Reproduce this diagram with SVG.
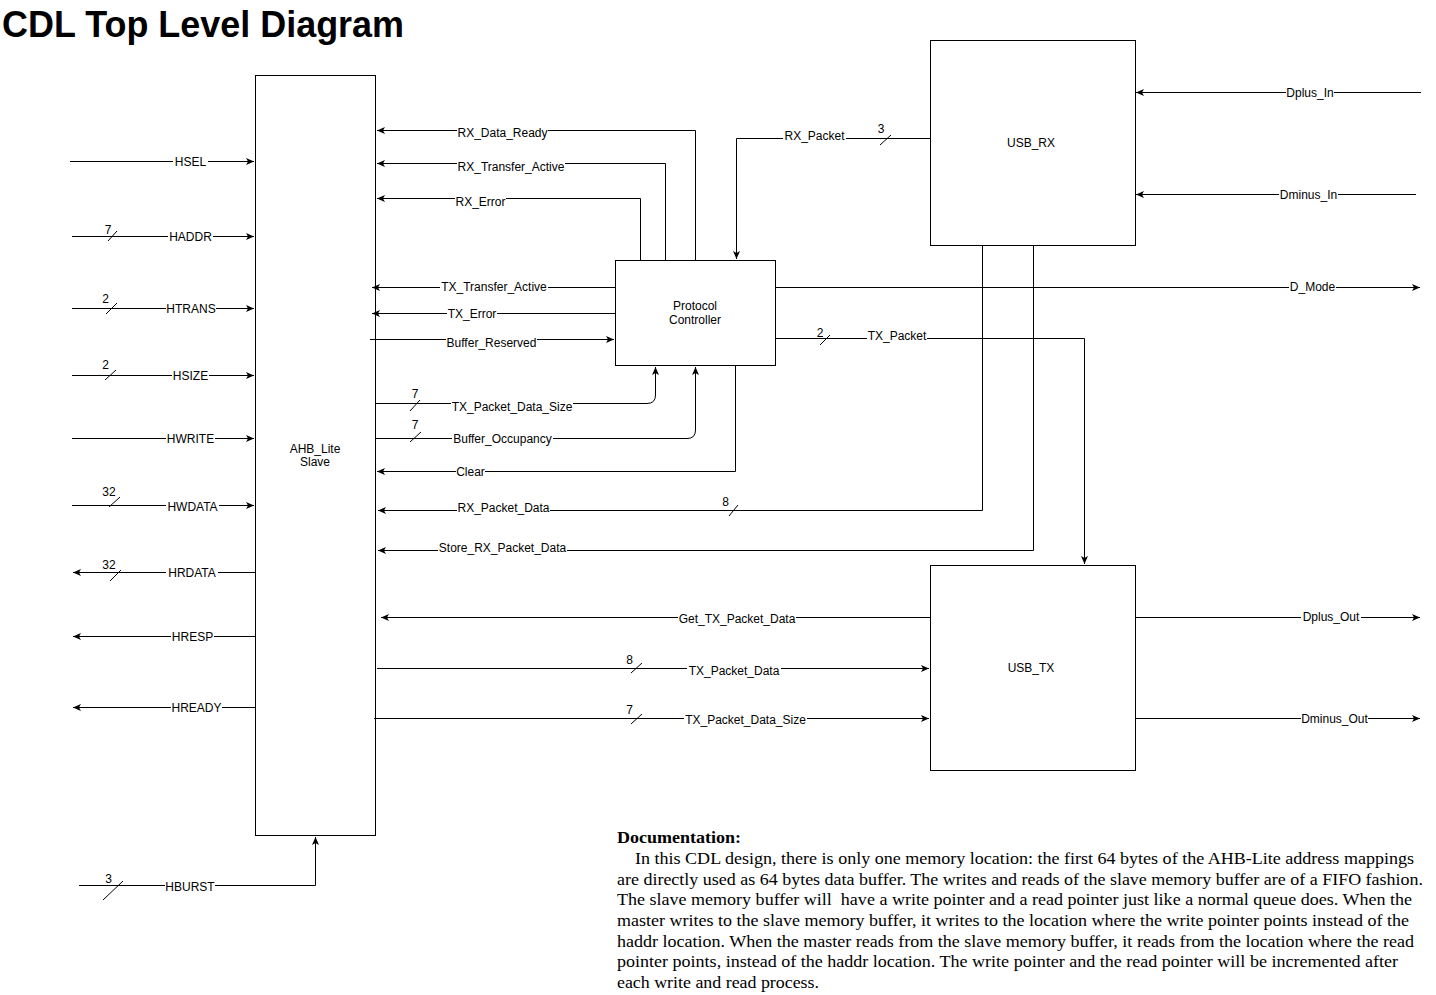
<svg xmlns="http://www.w3.org/2000/svg" width="1436" height="995" viewBox="0 0 1436 995">
<defs>
<marker id="arr" markerWidth="8" markerHeight="8" viewBox="0 0 8 8" refX="8" refY="4" orient="auto" markerUnits="userSpaceOnUse"><path d="M0,0.5 L8,4 L0,7.5 L2,4 Z" fill="#000"/></marker>
<style>
.w{fill:none;stroke:#000;stroke-width:1}
.a{marker-end:url(#arr)}
.bg{fill:#fff}
.lbl{font-family:"Liberation Sans",Arial,sans-serif;font-size:12px;fill:#000;text-anchor:middle}
.sl{stroke:#000;stroke-width:1;fill:none}
.box{fill:#fff;stroke:#000;stroke-width:1}
.doc{font-family:"Liberation Serif","Times New Roman",serif;font-size:16px;fill:#000}
</style>
</defs>
<rect width="1436" height="995" fill="#fff"/>
<text x="2" y="37" font-family="'Liberation Sans',Arial,sans-serif" font-size="36" font-weight="bold" textLength="402" lengthAdjust="spacingAndGlyphs">CDL Top Level Diagram</text>

<g id="ahb"><rect class="box" x="255.5" y="75.5" width="120" height="760"/><text class="lbl" x="315" y="453">AHB_Lite</text><text class="lbl" x="315" y="466">Slave</text></g>
<g id="pc"><rect class="box" x="615.5" y="260.5" width="160" height="105"/><text class="lbl" x="695" y="310">Protocol</text><text class="lbl" x="695" y="324">Controller</text></g>
<g id="usbrx"><rect class="box" x="930.5" y="40.5" width="205" height="205"/><text class="lbl" x="1031" y="147">USB_RX</text></g>
<g id="usbtx"><rect class="box" x="930.5" y="565.5" width="205" height="205"/><text class="lbl" x="1031" y="672">USB_TX</text></g>

<g id="connectors">
<g id="c-hsel"><path class="w a" d="M70,161.5 H254"/><rect class="bg" x="173" y="158.5" width="35" height="6"/><text class="lbl" x="190.5" y="166">HSEL</text></g>
<g id="c-haddr"><path class="w a" d="M72,236.5 H254"/><path class="sl" d="M108,241 L117,231"/><text class="lbl" x="108" y="234">7</text><rect class="bg" x="168" y="233.5" width="45" height="6"/><text class="lbl" x="190.5" y="241">HADDR</text></g>
<g id="c-htrans"><path class="w a" d="M72,308.5 H254"/><path class="sl" d="M106,314 L117,303"/><text class="lbl" x="105.5" y="303">2</text><rect class="bg" x="166" y="305.5" width="50" height="6"/><text class="lbl" x="191" y="313">HTRANS</text></g>
<g id="c-hsize"><path class="w a" d="M72,375.5 H254"/><path class="sl" d="M105,380 L116,370"/><text class="lbl" x="105.5" y="369">2</text><rect class="bg" x="172" y="372.5" width="37" height="6"/><text class="lbl" x="190.5" y="380">HSIZE</text></g>
<g id="c-hwrite"><path class="w a" d="M72,438.5 H254"/><rect class="bg" x="166" y="435.5" width="49" height="6"/><text class="lbl" x="190.5" y="442.5">HWRITE</text></g>
<g id="c-hwdata"><path class="w a" d="M72,505.5 H254"/><path class="sl" d="M109,507 L120,497"/><text class="lbl" x="109" y="496">32</text><rect class="bg" x="166" y="502.5" width="53" height="6"/><text class="lbl" x="192.5" y="510.5">HWDATA</text></g>
<g id="c-hrdata"><path class="w a" d="M255,572.5 H73"/><path class="sl" d="M110,581 L121,570"/><text class="lbl" x="109" y="569">32</text><rect class="bg" x="166" y="569.5" width="52" height="6"/><text class="lbl" x="192" y="577">HRDATA</text></g>
<g id="c-hresp"><path class="w a" d="M255,636.5 H73"/><rect class="bg" x="171" y="633.5" width="43" height="6"/><text class="lbl" x="192.5" y="641">HRESP</text></g>
<g id="c-hready"><path class="w a" d="M255,707.5 H73"/><rect class="bg" x="171" y="704.5" width="51" height="6"/><text class="lbl" x="196.5" y="711.5">HREADY</text></g>
<g id="c-hburst"><path class="w a" d="M79,885.5 H315.5 V837"/><path class="sl" d="M103,900 L123,881"/><text class="lbl" x="108.5" y="883">3</text><rect class="bg" x="165" y="882.5" width="50" height="6"/><text class="lbl" x="190" y="890.5">HBURST</text></g>

<g id="c-rxdataready"><path class="w a" d="M695.5,260 V130.5 H377"/><rect class="bg" x="457" y="127.5" width="91" height="6"/><text class="lbl" x="502.5" y="137">RX_Data_Ready</text></g>
<g id="c-rxtransfer"><path class="w a" d="M665.5,260 V163.5 H377"/><rect class="bg" x="457" y="160.5" width="108" height="6"/><text class="lbl" x="511" y="170.5">RX_Transfer_Active</text></g>
<g id="c-rxerror"><path class="w a" d="M640.5,260 V198.5 H377"/><rect class="bg" x="455" y="195.5" width="51" height="6"/><text class="lbl" x="480.5" y="205.5">RX_Error</text></g>
<g id="c-txtransfer"><path class="w a" d="M615,287.5 H372"/><rect class="bg" x="440" y="284.5" width="108" height="6"/><text class="lbl" x="494" y="291">TX_Transfer_Active</text></g>
<g id="c-txerror"><path class="w a" d="M615,313.5 H372"/><rect class="bg" x="447" y="310.5" width="50" height="6"/><text class="lbl" x="472" y="318">TX_Error</text></g>
<g id="c-bufres"><path class="w a" d="M370,339.5 H614"/><rect class="bg" x="446" y="336.5" width="91" height="6"/><text class="lbl" x="491.5" y="347">Buffer_Reserved</text></g>
<g id="c-txpds-pc"><path class="w a" d="M376,403.5 H647 Q655.5,403.5 655.5,395 V367"/><path class="sl" d="M410,411 L420,400"/><text class="lbl" x="415" y="398">7</text><rect class="bg" x="451" y="400.5" width="122" height="6"/><text class="lbl" x="512" y="411">TX_Packet_Data_Size</text></g>
<g id="c-bufocc"><path class="w a" d="M376,438.5 H687 Q695.5,438.5 695.5,430 V367"/><path class="sl" d="M410,442 L421,432"/><text class="lbl" x="415" y="429">7</text><rect class="bg" x="452" y="435.5" width="101" height="6"/><text class="lbl" x="502.5" y="443">Buffer_Occupancy</text></g>
<g id="c-clear"><path class="w a" d="M735.5,366 V471.5 H377"/><rect class="bg" x="456" y="468.5" width="29" height="6"/><text class="lbl" x="470.5" y="476">Clear</text></g>
<g id="c-rxpd"><path class="w a" d="M982.5,246 V510.5 H378"/><path class="sl" d="M729,516 L738,505"/><text class="lbl" x="725.5" y="506">8</text><rect class="bg" x="457" y="507.5" width="93" height="6"/><text class="lbl" x="503.5" y="512">RX_Packet_Data</text></g>
<g id="c-storerx"><path class="w a" d="M1033.5,246 V550.5 H378"/><rect class="bg" x="438" y="547.5" width="129" height="6"/><text class="lbl" x="502.5" y="552">Store_RX_Packet_Data</text></g>
<g id="c-rxpacket"><path class="w a" d="M930,138.5 H736.5 V259"/><path class="sl" d="M880,145 L891,135"/><text class="lbl" x="881" y="133">3</text><rect class="bg" x="783" y="135.5" width="63" height="6"/><text class="lbl" x="814.5" y="140">RX_Packet</text></g>
<g id="c-dmode"><path class="w a" d="M776,287.5 H1420"/><rect class="bg" x="1289" y="284.5" width="47" height="6"/><text class="lbl" x="1312.5" y="291">D_Mode</text></g>
<g id="c-txpacket"><path class="w a" d="M776,338.5 H1084.5 V564"/><path class="sl" d="M820,345 L830,335"/><text class="lbl" x="820" y="336.5">2</text><rect class="bg" x="867" y="335.5" width="60" height="6"/><text class="lbl" x="897" y="340">TX_Packet</text></g>
<g id="c-dplusin"><path class="w a" d="M1421,92.5 H1136"/><rect class="bg" x="1286" y="89.5" width="48" height="6"/><text class="lbl" x="1310" y="96.5">Dplus_In</text></g>
<g id="c-dminusin"><path class="w a" d="M1416,194.5 H1136"/><rect class="bg" x="1279" y="191.5" width="59" height="6"/><text class="lbl" x="1308.5" y="198.5">Dminus_In</text></g>
<g id="c-gettx"><path class="w a" d="M930,617.5 H381"/><rect class="bg" x="678" y="614.5" width="118" height="6"/><text class="lbl" x="737" y="623">Get_TX_Packet_Data</text></g>
<g id="c-txpd"><path class="w a" d="M377,668.5 H929"/><path class="sl" d="M631,673 L642,663"/><text class="lbl" x="629.5" y="664">8</text><rect class="bg" x="687" y="665.5" width="94" height="6"/><text class="lbl" x="734" y="675">TX_Packet_Data</text></g>
<g id="c-txpds-tx"><path class="w a" d="M374,718.5 H929"/><path class="sl" d="M631,724 L642,714"/><text class="lbl" x="629.5" y="714">7</text><rect class="bg" x="684" y="715.5" width="123" height="6"/><text class="lbl" x="745.5" y="724">TX_Packet_Data_Size</text></g>
<g id="c-dplusout"><path class="w a" d="M1136,617.5 H1420"/><rect class="bg" x="1301" y="614.5" width="60" height="6"/><text class="lbl" x="1331" y="620.5">Dplus_Out</text></g>
<g id="c-dminusout"><path class="w a" d="M1136,718.5 H1420"/><rect class="bg" x="1301" y="715.5" width="67" height="6"/><text class="lbl" x="1334.5" y="722.5">Dminus_Out</text></g>
</g>

<g id="doc">
<text class="doc" x="617" y="843" font-weight="bold" textLength="124" lengthAdjust="spacingAndGlyphs">Documentation:</text>
<text class="doc" x="635" y="864" textLength="779" lengthAdjust="spacingAndGlyphs">In this CDL design, there is only one memory location: the first 64 bytes of the AHB-Lite address mappings</text>
<text class="doc" x="617" y="885" textLength="806" lengthAdjust="spacingAndGlyphs">are directly used as 64 bytes data buffer. The writes and reads of the slave memory buffer are of a FIFO fashion.</text>
<text class="doc" x="617" y="905" textLength="795" lengthAdjust="spacingAndGlyphs" xml:space="preserve">The slave memory buffer will  have a write pointer and a read pointer just like a normal queue does. When the</text>
<text class="doc" x="617" y="926" textLength="792" lengthAdjust="spacingAndGlyphs">master writes to the slave memory buffer, it writes to the location where the write pointer points instead of the</text>
<text class="doc" x="617" y="947" textLength="797" lengthAdjust="spacingAndGlyphs">haddr location. When the master reads from the slave memory buffer, it reads from the location where the read</text>
<text class="doc" x="617" y="967" textLength="781" lengthAdjust="spacingAndGlyphs">pointer points, instead of the haddr location. The write pointer and the read pointer will be incremented after</text>
<text class="doc" x="617" y="988" textLength="202" lengthAdjust="spacingAndGlyphs">each write and read process.</text>
</g>
</svg>
